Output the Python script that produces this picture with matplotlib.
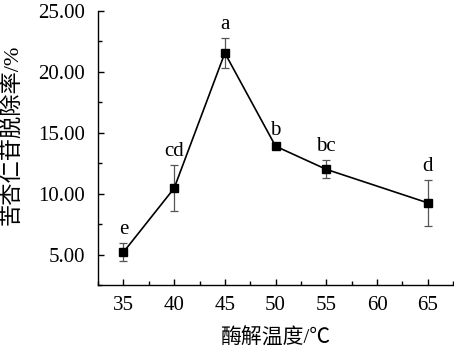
import matplotlib
matplotlib.use("Agg")
import matplotlib.pyplot as plt
from matplotlib.ticker import MultipleLocator, FormatStrFormatter

temps = [35, 40, 45, 50, 55, 65]
removal = [5.2, 10.45, 21.55, 13.9, 12.0, 9.25]
errors = [0.75, 1.9, 1.2, 0.2, 0.75, 1.9]
letters = ["e", "cd", "a", "b", "bc", "d"]
xticks = [35, 40, 45, 50, 55, 60, 65]
yticks = [5, 10, 15, 20, 25]

serif = ["Liberation Serif", "Noto Sans CJK SC"]
plt.rcParams["font.family"] = serif

fig = plt.figure(figsize=(4.54, 3.55), dpi=100)
ax = fig.add_axes([0.216, 0.197, 0.782, 0.772])

ax.errorbar(temps, removal, yerr=errors, fmt="none", ecolor="#555555",
            elinewidth=0.9, capsize=3, capthick=0.9, zorder=2)
ax.plot(temps, removal, color="black", lw=1.2, marker="s", ms=6,
        mfc="black", mec="black", zorder=3)

for x, y, e, t in zip(temps, removal, errors, letters):
    ax.annotate(t, (x, y + e), xytext=(0, 3), textcoords="offset points",
                ha="center", va="bottom", fontsize=15, family=serif)

ax.set_xlim(32.5, 67.5)
ax.set_ylim(2.5, 25)
ax.set_xticks(xticks)
ax.set_yticks(yticks)
ax.xaxis.set_minor_locator(MultipleLocator(2.5))
ax.yaxis.set_minor_locator(MultipleLocator(2.5))
ax.yaxis.set_major_formatter(FormatStrFormatter("%.2f"))

ax.spines["top"].set_visible(False)
ax.spines["right"].set_visible(False)
for s in ("left", "bottom"):
    ax.spines[s].set_linewidth(1.0)
ax.tick_params(which="both", direction="in", width=1.0)
ax.tick_params(which="major", length=4, labelsize=15)
ax.tick_params(axis="y", which="major", pad=9.5)
ax.tick_params(axis="x", which="major", pad=8)
ax.tick_params(which="minor", length=3)

ax.set_xlabel("酶解温度/℃", fontsize=15, family=serif)
ax.xaxis.set_label_coords(0.5, -0.16)
ax.set_ylabel("苦杏仁苷脱除率/%", fontsize=16, family=serif)
ax.yaxis.set_label_coords(-0.212, 0.547)

fig.savefig("out.png", dpi=100)
